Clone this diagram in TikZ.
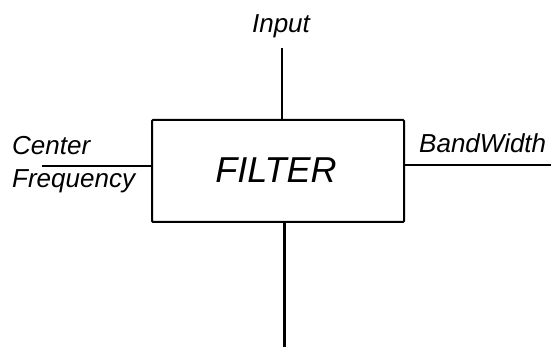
\documentclass[tikz,border=0pt]{standalone}
\usepackage{fontspec}
\setmainfont{Liberation Sans}
\begin{document}
\begin{tikzpicture}[x=1pt,y=-1pt,
  lbl/.style={font=\fontsize{26}{30}\selectfont\itshape, inner sep=0pt},
  boxst/.style={draw, line width=2pt, minimum width=252pt, minimum height=102pt, inner sep=0pt, rounded corners=1pt},
  wire/.style={line width=1.5pt},
  vwire/.style={line width=2.6pt}]
\useasboundingbox (0,0) rectangle (551,347);
\node[boxst] (filter) at (278,171) {};
\node[inner sep=0pt, anchor=base, font=\fontsize{36}{40}\selectfont\itshape] (ftext) at (276,183) {FILTER};
\node[lbl, anchor=base] (input) at (281,33) {Input};
\node[lbl, anchor=base west] (bw) at (419,153) {BandWidth};
\node[lbl, anchor=base west] (center) at (12,155) {Center};
\node[lbl, anchor=base west] (freq) at (12,188) {Frequency};
\coordinate (intop) at (282,48);
\coordinate (outbot) at (284.5,347);
\coordinate (lend) at (42,166);
\coordinate (rend) at (551,165);
\draw[vwire] (intop) -- (intop |- filter.north);
\draw[vwire] (outbot |- filter.south) -- (outbot);
\draw[wire] (lend) -- (lend -| filter.west);
\draw[wire] (rend -| filter.east) -- (rend);
\end{tikzpicture}
\end{document}
